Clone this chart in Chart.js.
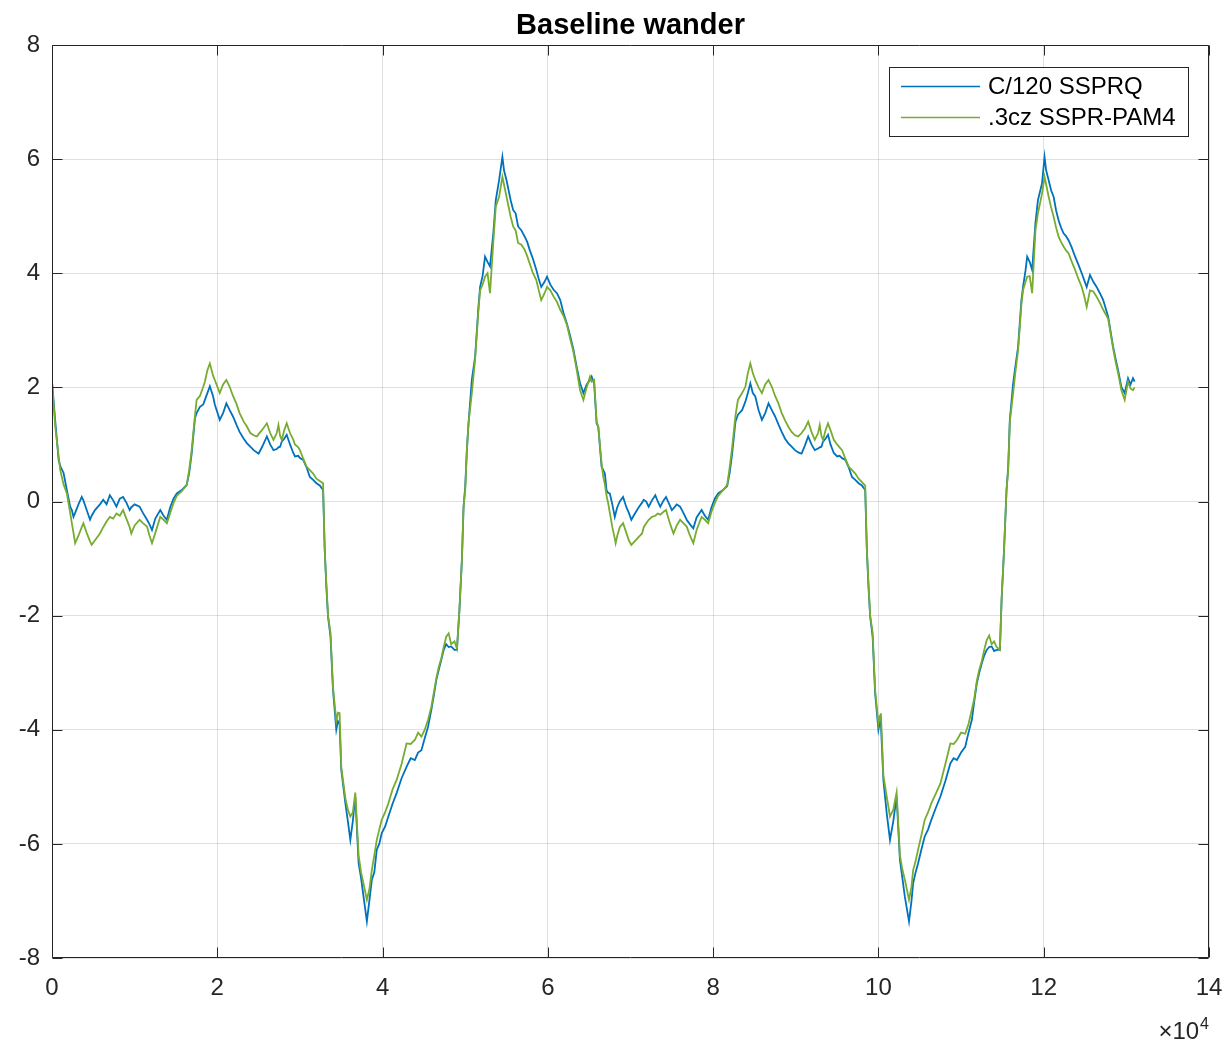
<!DOCTYPE html>
<html>
<head>
<meta charset="utf-8">
<title>Baseline wander</title>
<script src="https://cdn.jsdelivr.net/npm/chart.js@4.4.1/dist/chart.umd.min.js"></script>
<style>
  html, body { margin: 0; padding: 0; background: #fff; }
  #wrap { width: 1225px; height: 1043px; }
</style>
</head>
<body>
<div id="wrap"><canvas id="wanderChart" width="1225" height="1043"></canvas></div>
<script>
// Sample index of each point
const sampleIdx = [
  0, 400, 800, 1000, 1400, 1800, 2200, 2400, 2600, 2800,
  3200, 3600, 3800, 4200, 4600, 4800, 5200, 5800, 6200, 6600,
  7000, 7400, 7800, 8200, 8600, 9000, 9400, 9600, 10000, 10600,
  11000, 11500, 11800, 12100, 12500, 13100, 13500, 13900, 14300, 14700,
  15100, 15700, 16300, 16600, 16900, 17300, 17500, 17900, 18300, 18500,
  18800, 19100, 19500, 19700, 20300, 20700, 21100, 21500, 21900, 22300,
  22700, 23200, 23600, 24000, 24400, 24800, 25000, 25400, 26000, 26400,
  26800, 27200, 27400, 27600, 27800, 28100, 28400, 28800, 29200, 29400,
  29800, 30000, 30400, 30800, 31200, 31600, 32000, 32400, 32800, 33000,
  33200, 33400, 33700, 34000, 34400, 34600, 34800, 35000, 35500, 35800,
  36100, 36400, 36700, 37100, 37400, 37700, 38100, 38400, 38700, 39000,
  39300, 39600, 39900, 40300, 40700, 41200, 41700, 42300, 42900, 43400,
  43900, 44300, 44700, 45100, 45500, 45900, 46200, 46500, 46800, 47100,
  47400, 47700, 48000, 48300, 48700, 49000, 49300, 49600, 49800, 50000,
  50200, 50400, 50800, 51200, 51600, 51800, 52100, 52400, 52700, 53000,
  53400, 53700, 54100, 54500, 54700, 55000, 55500, 55800, 56100, 56400,
  56800, 57200, 57500, 57800, 58200, 58600, 58900, 59200, 59600, 59900,
  60300, 60700, 61100, 61500, 61900, 62300, 62700, 63100, 63500, 63900,
  64300, 64700, 65100, 65300, 65600, 65900, 66100, 66500, 66700, 66900,
  67100, 67300, 67500, 67800, 68100, 68200, 68400, 68700, 69100, 69500,
  69800, 70100, 70500, 71000, 71400, 71600, 71900, 72200, 72600, 73000,
  73300, 73600, 74000, 74300, 74700, 75000, 75200, 75600, 76000, 76400,
  76800, 77200, 77600, 78000, 78600, 79000, 79400, 79800, 80200, 80600,
  81200, 81700, 82000, 82300, 82700, 83000, 83500, 83900, 84200, 84500,
  84800, 85100, 85500, 85900, 86300, 86700, 87100, 87500, 87900, 88300,
  88700, 89100, 89500, 89900, 90300, 90700, 91100, 91500, 91900, 92300,
  92700, 92900, 93100, 93300, 93600, 93900, 94200, 94600, 95000, 95300,
  95600, 96000, 96400, 96800, 97200, 97600, 98000, 98400, 98600, 98800,
  99000, 99300, 99600, 100000, 100200, 100300, 100600, 101000, 101400, 101800,
  102200, 102600, 102900, 103200, 103700, 104000, 104200, 104500, 104800, 105200,
  105600, 106000, 106400, 107000, 107500, 108100, 108700, 109100, 109500, 110000,
  110500, 110900, 111300, 111600, 111900, 112200, 112500, 112800, 113100, 113400,
  113700, 114000, 114300, 114700, 114900, 115200, 115500, 115700, 115900, 116300,
  116600, 116900, 117300, 117500, 117800, 118000, 118300, 118600, 119000, 119300,
  119800, 120100, 120300, 120600, 120900, 121200, 121500, 121800, 122100, 122400,
  122700, 123000, 123400, 123800, 124200, 124600, 124900, 125200, 125600, 126000,
  126400, 126800, 127200, 127800, 128400, 128700, 129000, 129400, 129800, 130200,
  130500, 130800, 131000
];

// C/120 SSPRQ
const ssprq = [
  2.10, 1.40, 0.73, 0.62, 0.50, 0.20, -0.09, -0.15, -0.27, -0.20,
  -0.05, 0.08, 0.02, -0.15, -0.32, -0.25, -0.15, -0.05, 0.03, -0.05,
  0.11, 0.02, -0.09, 0.05, 0.08, -0.02, -0.15, -0.10, -0.05, -0.09,
  -0.20, -0.32, -0.40, -0.50, -0.30, -0.15, -0.25, -0.32, -0.10, 0.05,
  0.14, 0.20, 0.29, 0.50, 0.84, 1.46, 1.55, 1.66, 1.70, 1.78,
  1.90, 2.02, 1.84, 1.70, 1.43, 1.55, 1.72, 1.60, 1.49, 1.35,
  1.22, 1.10, 1.02, 0.96, 0.90, 0.86, 0.84, 0.95, 1.14, 1.00,
  0.90, 0.92, 0.95, 0.96, 1.05, 1.10, 1.17, 1.00, 0.85, 0.79,
  0.80, 0.76, 0.73, 0.60, 0.43, 0.38, 0.32, 0.28, 0.20, -0.85,
  -1.50, -2.02, -2.37, -3.30, -4.00, -3.85, -3.90, -4.70, -5.29, -5.60,
  -5.93, -5.60, -5.17, -6.34, -6.60, -6.93, -7.36, -7.00, -6.63, -6.50,
  -6.10, -6.00, -5.81, -5.70, -5.52, -5.30, -5.11, -4.85, -4.65, -4.50,
  -4.53, -4.40, -4.36, -4.15, -3.95, -3.65, -3.40, -3.13, -2.95, -2.78,
  -2.60, -2.50, -2.55, -2.54, -2.60, -2.60, -1.90, -1.02, -0.09, 0.26,
  0.90, 1.37, 2.13, 2.54, 3.41, 3.76, 3.95, 4.29, 4.20, 4.12,
  4.70, 5.28, 5.63, 6.04, 5.80, 5.63, 5.28, 5.11, 5.05, 4.82,
  4.75, 4.64, 4.55, 4.41, 4.25, 4.06, 3.90, 3.76, 3.85, 3.94,
  3.80, 3.71, 3.65, 3.53, 3.30, 3.12, 2.90, 2.66, 2.35, 2.07,
  1.90, 2.05, 2.13, 2.19, 2.07, 1.37, 1.31, 0.61, 0.55, 0.49,
  0.20, 0.15, 0.14, -0.05, -0.27, -0.21, -0.10, 0.00, 0.08, -0.10,
  -0.20, -0.32, -0.22, -0.10, -0.02, 0.03, 0.00, -0.09, 0.02, 0.11,
  0.00, -0.09, 0.02, 0.08, -0.05, -0.15, -0.12, -0.05, -0.09, -0.20,
  -0.32, -0.40, -0.47, -0.28, -0.15, -0.25, -0.32, -0.10, 0.05, 0.14,
  0.20, 0.27, 0.50, 0.84, 1.40, 1.52, 1.60, 1.75, 1.90, 2.07,
  1.90, 1.84, 1.60, 1.43, 1.55, 1.72, 1.60, 1.49, 1.35, 1.22,
  1.10, 1.02, 0.96, 0.90, 0.86, 0.84, 0.98, 1.14, 1.00, 0.90,
  0.93, 0.95, 0.96, 1.05, 1.10, 1.17, 1.00, 0.85, 0.79, 0.80,
  0.76, 0.73, 0.60, 0.43, 0.38, 0.32, 0.28, 0.20, -0.85, -1.50,
  -2.02, -2.37, -3.36, -4.00, -3.85, -3.90, -4.88, -5.46, -5.93, -5.60,
  -5.17, -6.28, -6.60, -6.93, -7.36, -7.00, -6.69, -6.50, -6.34, -6.10,
  -5.87, -5.75, -5.58, -5.35, -5.17, -4.90, -4.59, -4.50, -4.53, -4.40,
  -4.30, -4.05, -3.83, -3.50, -3.19, -3.00, -2.84, -2.70, -2.60, -2.55,
  -2.54, -2.62, -2.60, -2.60, -1.73, -0.85, 0.20, 0.60, 1.43, 2.07,
  2.40, 2.71, 3.53, 3.76, 4.05, 4.29, 4.20, 4.06, 4.88, 5.28,
  5.58, 6.04, 5.80, 5.63, 5.45, 5.34, 5.10, 4.93, 4.80, 4.70,
  4.65, 4.58, 4.45, 4.29, 4.15, 4.00, 3.88, 3.76, 3.97, 3.85,
  3.76, 3.65, 3.53, 3.24, 2.71, 2.50, 2.30, 2.01, 1.90, 2.16,
  2.05, 2.16, 2.10
];

// .3cz SSPR-PAM4
const sspr_pam4 = [
  2.10, 1.30, 0.80, 0.55, 0.30, 0.14, -0.20, -0.38, -0.55, -0.73,
  -0.60, -0.45, -0.38, -0.55, -0.70, -0.76, -0.68, -0.56, -0.45, -0.35,
  -0.27, -0.30, -0.21, -0.25, -0.15, -0.30, -0.45, -0.56, -0.42, -0.32,
  -0.38, -0.44, -0.60, -0.73, -0.55, -0.27, -0.32, -0.38, -0.20, -0.03,
  0.10, 0.18, 0.29, 0.55, 0.90, 1.50, 1.78, 1.85, 2.01, 2.10,
  2.30, 2.42, 2.20, 2.13, 1.90, 2.05, 2.13, 2.01, 1.85, 1.72,
  1.55, 1.40, 1.31, 1.20, 1.16, 1.14, 1.18, 1.25, 1.37, 1.20,
  1.08, 1.20, 1.34, 1.15, 1.08, 1.25, 1.37, 1.20, 1.08, 1.00,
  0.95, 0.90, 0.75, 0.61, 0.55, 0.49, 0.40, 0.36, 0.32, -0.85,
  -1.45, -2.00, -2.30, -3.25, -3.85, -3.70, -3.71, -4.65, -5.20, -5.40,
  -5.52, -5.45, -5.10, -6.20, -6.50, -6.70, -6.98, -6.80, -6.46, -6.20,
  -5.93, -5.75, -5.58, -5.45, -5.29, -5.05, -4.88, -4.60, -4.24, -4.25,
  -4.18, -4.05, -4.12, -4.00, -3.83, -3.60, -3.35, -3.10, -2.90, -2.75,
  -2.55, -2.37, -2.31, -2.50, -2.45, -2.58, -1.90, -1.02, -0.09, 0.20,
  0.90, 1.37, 1.90, 2.50, 3.35, 3.70, 3.80, 3.94, 4.00, 3.65,
  4.55, 5.17, 5.34, 5.69, 5.55, 5.34, 4.99, 4.82, 4.75, 4.53,
  4.50, 4.41, 4.30, 4.17, 4.00, 3.88, 3.70, 3.53, 3.65, 3.76,
  3.70, 3.59, 3.50, 3.36, 3.25, 3.10, 2.85, 2.62, 2.30, 1.95,
  1.78, 2.00, 2.19, 2.10, 2.13, 1.40, 1.31, 0.67, 0.43, 0.30,
  0.10, -0.03, -0.20, -0.45, -0.65, -0.73, -0.60, -0.45, -0.38, -0.55,
  -0.68, -0.76, -0.70, -0.62, -0.56, -0.45, -0.38, -0.32, -0.27, -0.25,
  -0.21, -0.23, -0.18, -0.15, -0.35, -0.48, -0.56, -0.42, -0.32, -0.38,
  -0.44, -0.60, -0.73, -0.50, -0.27, -0.32, -0.38, -0.18, -0.03, 0.10,
  0.20, 0.29, 0.60, 0.95, 1.50, 1.78, 1.90, 2.01, 2.25, 2.42,
  2.25, 2.13, 2.00, 1.90, 2.05, 2.13, 2.01, 1.85, 1.72, 1.55,
  1.42, 1.31, 1.22, 1.16, 1.14, 1.20, 1.28, 1.40, 1.22, 1.08,
  1.20, 1.34, 1.15, 1.08, 1.25, 1.37, 1.25, 1.08, 1.00, 0.95,
  0.90, 0.75, 0.61, 0.55, 0.49, 0.40, 0.34, 0.28, -0.85, -1.45,
  -2.00, -2.30, -3.30, -3.90, -3.75, -3.71, -4.80, -5.17, -5.52, -5.40,
  -5.10, -6.20, -6.45, -6.63, -6.98, -6.75, -6.46, -6.30, -6.10, -5.85,
  -5.58, -5.45, -5.29, -5.10, -4.94, -4.60, -4.24, -4.25, -4.18, -4.05,
  -4.07, -3.90, -3.65, -3.45, -3.15, -2.95, -2.80, -2.60, -2.43, -2.35,
  -2.50, -2.45, -2.55, -2.60, -1.73, -0.85, 0.20, 0.55, 1.40, 1.90,
  2.30, 2.65, 3.45, 3.70, 3.85, 3.94, 3.95, 3.65, 4.75, 5.05,
  5.40, 5.69, 5.55, 5.34, 5.15, 4.99, 4.80, 4.64, 4.55, 4.47,
  4.40, 4.35, 4.20, 4.06, 3.90, 3.76, 3.60, 3.41, 3.70, 3.68,
  3.59, 3.48, 3.36, 3.20, 2.68, 2.45, 2.25, 1.95, 1.78, 2.10,
  1.98, 1.95, 2.00
];

const seriesNames = ['C/120 SSPRQ', '.3cz SSPR-PAM4'];
const seriesColors = ['#0072BD', '#77AC30'];
const xTickStep = 20000;
const yTickStep = 2;

const FONT = "'Liberation Sans', Arial, Helvetica, sans-serif";
const AXIS_COLOR = '#262626';

const toPoints = (ys) => sampleIdx.map((x, i) => ({ x: x, y: ys[i] }));

// title, box, inward ticks, legend and exponent label
const matlabAxes = {
  id: 'matlabAxes',
  afterDatasetsDraw(chart) {
    const { ctx, chartArea: a, scales } = chart;
    const L = Math.round(a.left) + 0.5, R = Math.round(a.right) - 0.5;
    const T = Math.round(a.top) + 0.5, B = Math.round(a.bottom) - 0.5;
    const tick = 10;
    ctx.save();
    ctx.strokeStyle = AXIS_COLOR;
    ctx.lineWidth = 1;
    ctx.beginPath();
    ctx.rect(L, T, R - L, B - T);
    scales.x.ticks.forEach(t => {
      const px = Math.round(scales.x.getPixelForValue(t.value)) + 0.5;
      ctx.moveTo(px, B); ctx.lineTo(px, B - tick);
      ctx.moveTo(px, T); ctx.lineTo(px, T + tick);
    });
    scales.y.ticks.forEach(t => {
      const py = Math.round(scales.y.getPixelForValue(t.value)) + 0.5;
      ctx.moveTo(L, py); ctx.lineTo(L + tick, py);
      ctx.moveTo(R, py); ctx.lineTo(R - tick, py);
    });
    ctx.stroke();
    ctx.restore();
  },
  afterDraw(chart) {
    const { ctx, chartArea: a } = chart;
    ctx.save();

    // title centred over the plot box
    ctx.fillStyle = '#000';
    ctx.font = 'bold 29px ' + FONT;
    ctx.textAlign = 'center';
    ctx.textBaseline = 'alphabetic';
    ctx.fillText('Baseline wander', (a.left + a.right) / 2, 34);

    // legend box
    const bx = 889.5, by = 67.5, bw = 299, bh = 69;
    ctx.fillStyle = '#fff';
    ctx.fillRect(bx, by, bw, bh);
    ctx.strokeStyle = AXIS_COLOR;
    ctx.lineWidth = 1;
    ctx.strokeRect(bx, by, bw, bh);
    ctx.font = '24px ' + FONT;
    ctx.textBaseline = 'middle';
    ctx.textAlign = 'left';
    chart.data.datasets.forEach((ds, i) => {
      const ly = 86 + i * 31;
      ctx.strokeStyle = ds.borderColor;
      ctx.lineWidth = 1.3;
      ctx.beginPath();
      ctx.moveTo(901, ly + 0.5);
      ctx.lineTo(980, ly + 0.5);
      ctx.stroke();
      ctx.fillStyle = '#000';
      ctx.fillText(ds.label, 988, ly + 1);
    });

    // x10^4 exponent under the x axis
    ctx.fillStyle = AXIS_COLOR;
    ctx.textBaseline = 'alphabetic';
    ctx.textAlign = 'right';
    ctx.font = '16px ' + FONT;
    const right = Math.round(a.right);
    const expW = ctx.measureText('4').width;
    ctx.fillText('4', right, 1029);
    ctx.font = '24px ' + FONT;
    ctx.fillText('\u00d710', right - expW - 1, 1039);
    ctx.restore();
  }
};

const ctx = document.getElementById('wanderChart').getContext('2d');
new Chart(ctx, {
  type: 'scatter',
  data: {
    datasets: [
      {
        label: seriesNames[0],
        data: toPoints(ssprq),
        borderColor: seriesColors[0],
        backgroundColor: seriesColors[0],
        showLine: true,
        borderWidth: 1.8,
        pointRadius: 0,
        order: 1
      },
      {
        label: seriesNames[1],
        data: toPoints(sspr_pam4),
        borderColor: seriesColors[1],
        backgroundColor: seriesColors[1],
        showLine: true,
        borderWidth: 1.8,
        pointRadius: 0,
        order: 0
      }
    ]
  },
  options: {
    responsive: false,
    devicePixelRatio: 1,
    animation: false,
    layout: { padding: { left: 0, right: 16, top: 45, bottom: 0 } },
    plugins: {
      legend: { display: false },
      tooltip: { enabled: false },
      title: { display: false }
    },
    scales: {
      x: {
        type: 'linear',
        min: 0,
        max: 140000,
        afterFit: (s) => { s.height = 85; s.paddingLeft = 0; s.paddingRight = 0; },
        grid: { color: 'rgba(0,0,0,0.12)', drawTicks: false },
        border: { display: false },
        ticks: {
          stepSize: xTickStep,
          padding: 16,
          color: AXIS_COLOR,
          font: { family: FONT, size: 24 },
          maxRotation: 0,
          callback: (v) => v / 10000
        }
      },
      y: {
        min: -8,
        max: 8,
        afterFit: (s) => { s.width = 52; s.paddingTop = 0; s.paddingBottom = 0; },
        grid: { color: 'rgba(0,0,0,0.12)', drawTicks: false },
        border: { display: false },
        ticks: {
          stepSize: yTickStep,
          padding: 12,
          color: AXIS_COLOR,
          font: { family: FONT, size: 24 }
        }
      }
    }
  },
  plugins: [matlabAxes]
});
</script>
</body>
</html>
